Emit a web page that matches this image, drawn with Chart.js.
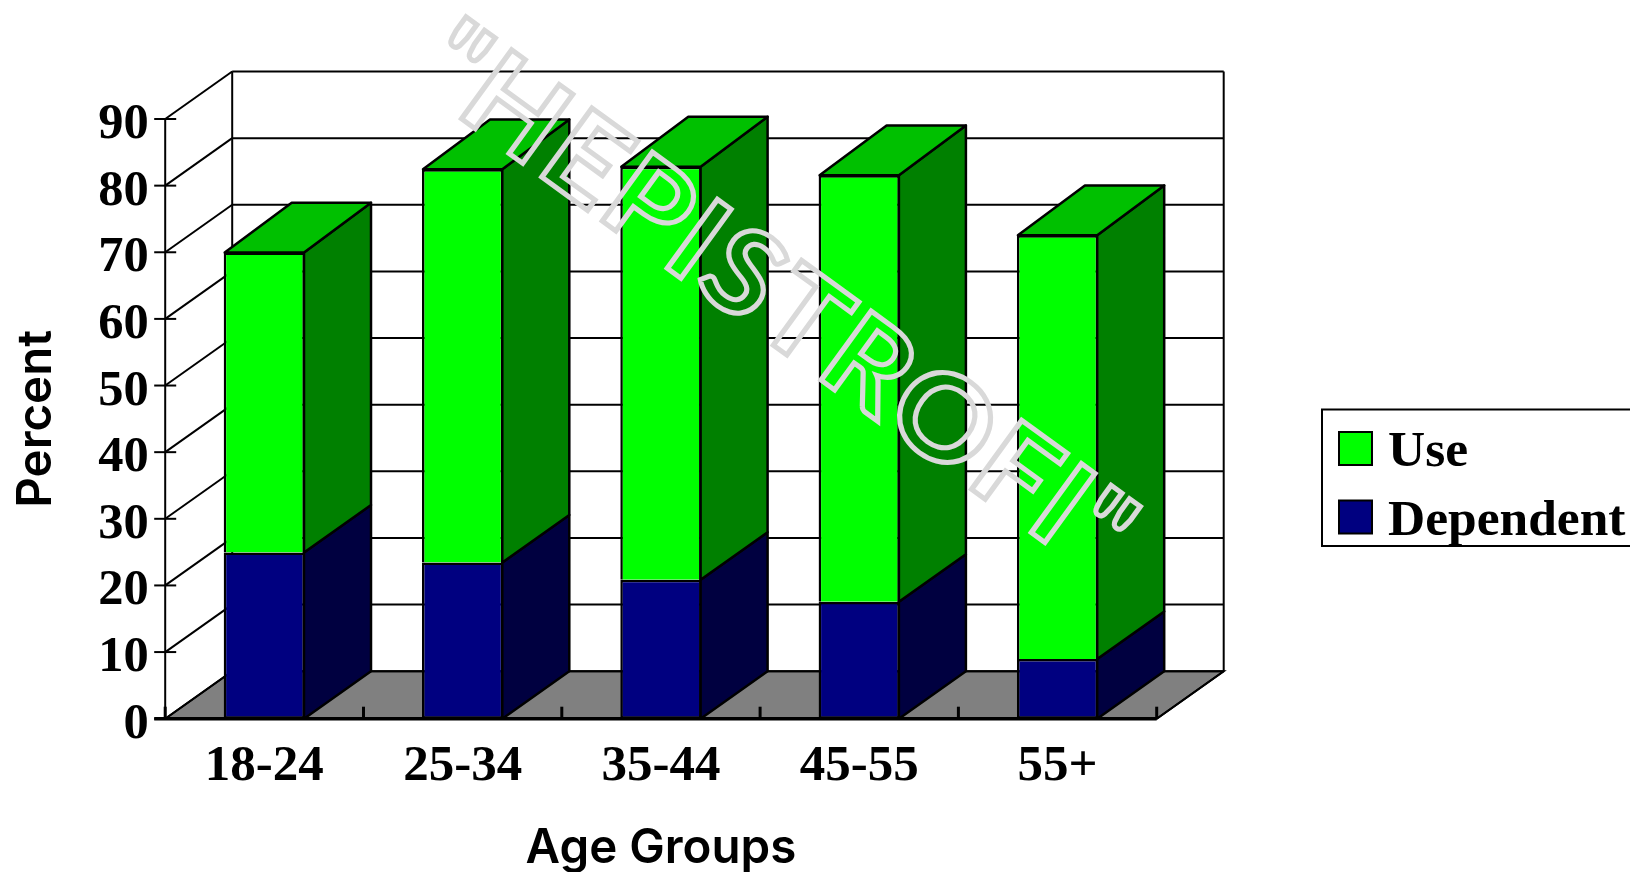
<!DOCTYPE html>
<html>
<head>
<meta charset="utf-8">
<style>
  html, body { margin: 0; padding: 0; background: #fff; }
  canvas { display: block; }
</style>
<script src="https://cdn.jsdelivr.net/npm/chart.js@4"></script>
</head>
<body>
<canvas id="chart" width="1630" height="872"></canvas>
<script>
const ageGroups = ["18-24", "25-34", "35-44", "45-55", "55+"];
const dependent = [24.95, 23.45, 20.85, 17.55, 8.95];
const use = [45.0, 59.0, 62.0, 64.0, 63.6];
const yTicks = [0, 10, 20, 30, 40, 50, 60, 70, 80, 90];
const stampText = '"HEPISTROFI"';

const depthX = 67;
const depthY = 47.5;
const capDepthY = 49.8;
const serif = "'Liberation Serif', serif";
const sans = "Inter, sans-serif";

function poly(ctx, pts, fill) {
  ctx.beginPath();
  pts.forEach((p, i) => i ? ctx.lineTo(p[0], p[1]) : ctx.moveTo(p[0], p[1]));
  ctx.closePath();
  if (fill) {
    ctx.fillStyle = fill;
    ctx.fill();
  }
  ctx.stroke();
}

function line(ctx, x1, y1, x2, y2) {
  ctx.beginPath();
  ctx.moveTo(x1, y1);
  ctx.lineTo(x2, y2);
  ctx.stroke();
}

// back wall, left wall, floor and axis ticks
const frame = {
  id: "frame",
  beforeDatasetsDraw(chart) {
    const ctx = chart.ctx;
    const x = chart.scales.x;
    const y = chart.scales.y;
    const y0 = y.getPixelForValue(0);
    ctx.save();
    ctx.strokeStyle = "#000";
    ctx.lineWidth = 2;

    poly(ctx, [
      [x.left, y0],
      [x.left + depthX, y0 - depthY],
      [x.right + depthX, y0 - depthY],
      [x.right, y0]
    ], "#808080");

    ctx.font = "bold 50.5px " + serif;
    ctx.textAlign = "right";
    ctx.textBaseline = "middle";
    ctx.fillStyle = "#000";
    yTicks.forEach(v => {
      const py = y.getPixelForValue(v);
      line(ctx, x.left - 11, py, x.left + 11, py);
      line(ctx, x.left, py, x.left + depthX, py - depthY);
      line(ctx, x.left + depthX, py - depthY, x.right + depthX, py - depthY);
      // labels sit a little under their ticks in the original
      ctx.fillText(String(v), x.left - 16.5, py + 6);
    });

    const top = y.getPixelForValue(90);
    line(ctx, x.left, top, x.left, y0);
    line(ctx, x.left + depthX, top - depthY, x.left + depthX, y0 - depthY);
    line(ctx, x.right + depthX, top - depthY, x.right + depthX, y0 - depthY);

    const step = (x.right - x.left) / ageGroups.length;
    ctx.lineWidth = 3;
    for (let i = 0; i <= ageGroups.length; i++) {
      line(ctx, x.left + step * i, y0 - 12, x.left + step * i, y0);
    }
    ctx.restore();
  },
  afterDatasetsDraw(chart) {
    const ctx = chart.ctx;
    const x = chart.scales.x;
    const y = chart.scales.y;
    const sideColors = ["#000040", "#008000"];
    const last = chart.data.datasets.length - 1;
    ctx.save();
    ctx.strokeStyle = "#000";
    ctx.lineWidth = 2.5;
    ctx.lineJoin = "round";

    chart.data.datasets.forEach((ds, d) => {
      chart.getDatasetMeta(d).data.forEach(bar => {
        const right = bar.x + bar.width / 2 - 1;
        const left = bar.x - bar.width / 2 + 1;
        const rise = d === last ? capDepthY : depthY;
        poly(ctx, [
          [right, bar.base],
          [right + depthX, bar.base - depthY],
          [right + depthX, bar.y - rise],
          [right, bar.y]
        ], sideColors[d]);
        if (d === last) {
          poly(ctx, [
            [left, bar.y],
            [left + depthX, bar.y - rise],
            [right + depthX, bar.y - rise],
            [right, bar.y]
          ], "#00c000");
        }
      });
    });

    const y0 = y.getPixelForValue(0);
    ctx.lineWidth = 3.5;
    line(ctx, x.left - 11, y0, x.right, y0);
    ctx.lineWidth = 2;
    line(ctx, x.right, y0, x.right + depthX, y0 - depthY);
    ctx.restore();
  }
};

// legend box, Use on top like the original
const sideLegend = {
  id: "sideLegend",
  afterDraw(chart) {
    const ctx = chart.ctx;
    const rows = [chart.data.datasets[1], chart.data.datasets[0]];
    ctx.save();
    ctx.strokeStyle = "#000";
    ctx.lineWidth = 2;
    ctx.strokeRect(1322, 409.5, 330, 136.5);
    ctx.font = "bold 51.5px " + serif;
    ctx.textBaseline = "alphabetic";
    rows.forEach((ds, i) => {
      const top = 432 + i * 68.5;
      ctx.fillStyle = ds.backgroundColor;
      ctx.fillRect(1339, top, 33, 33);
      ctx.strokeRect(1339, top, 33, 33);
      ctx.fillStyle = "#000";
      ctx.fillText(ds.label, 1388, top + 34);
    });
    ctx.restore();
  }
};

// outlined diagonal stamp across the plot
const stamp = {
  id: "stamp",
  afterDraw(chart) {
    const ctx = chart.ctx;
    ctx.save();
    ctx.translate(777, 301);
    ctx.rotate(36 * Math.PI / 180);
    ctx.scale(1.05, 1);
    ctx.font = "bold 118px Lato, sans-serif";
    ctx.letterSpacing = "3.5px";
    ctx.textAlign = "center";
    ctx.textBaseline = "middle";
    ctx.strokeStyle = "#d9d9d9";
    ctx.lineWidth = 5;
    ctx.lineJoin = "miter";
    ctx.miterLimit = 3;
    ctx.strokeText(stampText, 0, 0);
    ctx.restore();
  }
};

new Chart("chart", {
  type: "bar",
  data: {
    labels: ageGroups,
    datasets: [
      {
        label: "Dependent",
        data: dependent,
        backgroundColor: "#000080",
        borderColor: "#000",
        borderWidth: 2.5,
        borderSkipped: false
      },
      {
        label: "Use",
        data: use,
        backgroundColor: "#00ff00",
        borderColor: "#000",
        borderWidth: { top: 2.5, left: 2.5, right: 2.5, bottom: 0 },
        borderSkipped: false
      }
    ]
  },
  options: {
    responsive: false,
    animation: false,
    layout: { padding: { top: 119, right: 473.3, left: 0, bottom: 0 } },
    barPercentage: 0.41,
    categoryPercentage: 1,
    plugins: {
      legend: { display: false },
      tooltip: { enabled: false }
    },
    scales: {
      x: {
        stacked: true,
        grid: { display: false, drawTicks: false },
        border: { display: false },
        ticks: {
          color: "#000",
          font: { family: serif, size: 51, weight: "bold" },
          padding: 18,
          maxRotation: 0,
          autoSkip: false
        },
        title: {
          display: true,
          text: "Age Groups",
          color: "#000",
          font: { family: sans, size: 47.5, weight: 600, lineHeight: 1 },
          padding: { top: 0, bottom: 0 }
        },
        afterFit(scale) { scale.height = 153.3; }
      },
      y: {
        stacked: true,
        min: 0,
        max: 90,
        grid: { display: false, drawTicks: false },
        border: { display: false },
        ticks: { display: false, stepSize: 10 },
        title: {
          display: true,
          text: "Percent",
          color: "#000",
          font: { family: sans, size: 47.5, weight: 600, lineHeight: 1 },
          padding: { top: 13, bottom: 0 }
        },
        afterFit(scale) { scale.width = 165.2; }
      }
    }
  },
  plugins: [frame, sideLegend, stamp]
});
</script>
</body>
</html>
